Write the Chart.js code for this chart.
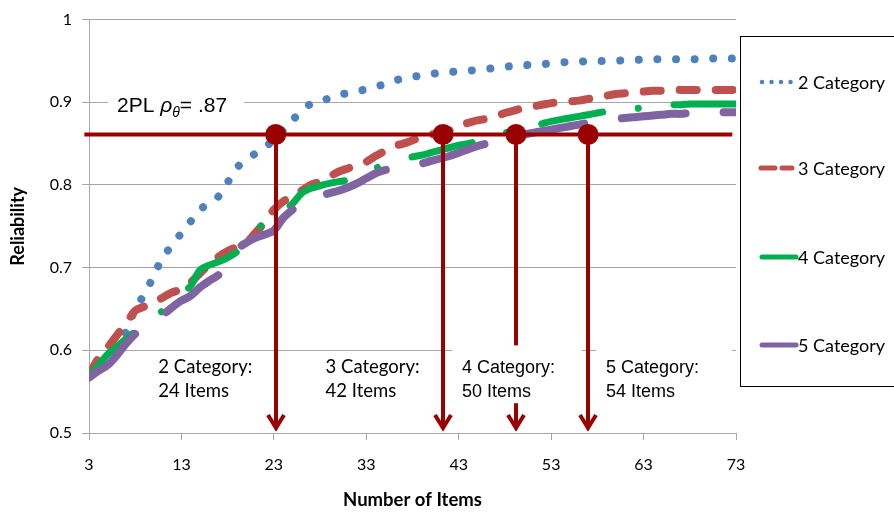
<!DOCTYPE html>
<html>
<head>
<meta charset="utf-8">
<script src="https://cdn.jsdelivr.net/npm/chart.js@4.4.0/dist/chart.umd.min.js"></script>
<style>
  html, body { margin: 0; padding: 0; background: #fff; }
  #wrap { width: 894px; height: 514px; position: relative; }
</style>
</head>
<body>
<div id="wrap"><canvas id="relChart" width="894" height="514"></canvas></div>
<script>
// number of items on the x axis
const itemCounts = [3, 4, 5, 6, 7, 8, 9, 10, 11, 12, 13, 14, 15, 16, 17, 18, 19, 20, 21, 22,
  23, 24, 25, 26, 27, 28, 29, 30, 31, 32, 33, 34, 35, 36, 37, 38, 39, 40, 41, 42,
  43, 44, 45, 46, 47, 48, 49, 50, 51, 52, 53, 54, 55, 56, 57, 58, 59, 60, 61, 62,
  63, 64, 65, 66, 67, 68, 69, 70, 71, 72, 73];

// reliability per response-category model
const twoCat = [0.570, 0.582, 0.595, 0.608, 0.622, 0.650, 0.668, 0.690, 0.713, 0.727,
  0.742, 0.756, 0.770, 0.778, 0.786, 0.803, 0.821, 0.830, 0.838, 0.845,
  0.855, 0.866, 0.878, 0.890, 0.898, 0.901, 0.905, 0.909, 0.911, 0.913,
  0.916, 0.919, 0.922, 0.926, 0.929, 0.931, 0.932, 0.934, 0.936, 0.937,
  0.937, 0.938, 0.939, 0.940, 0.942, 0.943, 0.944, 0.945, 0.945, 0.946,
  0.947, 0.948, 0.949, 0.949, 0.950, 0.950, 0.950, 0.950, 0.951, 0.951,
  0.952, 0.952, 0.952, 0.952, 0.952, 0.952, 0.952, 0.953, 0.953, 0.953, 0.953];
const threeCat = [0.570, 0.590, 0.603, 0.618, 0.632, 0.648, 0.653, 0.658, 0.664, 0.670,
  0.674, 0.682, 0.693, 0.704, 0.713, 0.720, 0.725, 0.730, 0.742, 0.755,
  0.770, 0.780, 0.786, 0.793, 0.800, 0.804, 0.810, 0.816, 0.820, 0.824,
  0.828, 0.835, 0.841, 0.847, 0.850, 0.854, 0.858, 0.861, 0.862, 0.866,
  0.872, 0.875, 0.878, 0.880, 0.883, 0.887, 0.890, 0.893, 0.895, 0.897,
  0.899, 0.900, 0.901, 0.902, 0.904, 0.906, 0.908, 0.910, 0.911, 0.912,
  0.913, 0.914, 0.914, 0.915, 0.915, 0.915, 0.915, 0.915, 0.915, 0.915, 0.915];
const fourCat = [0.568, 0.582, 0.595, 0.604, 0.614, 0.622, 0.628, 0.640, 0.648, 0.658,
  0.668, 0.678, 0.697, 0.703, 0.707, 0.712, 0.719, 0.728, 0.742, 0.755,
  0.762, 0.770, 0.777, 0.790, 0.796, 0.799, 0.802, 0.804, 0.806, 0.809,
  0.814, 0.820, 0.825, 0.828, 0.831, 0.834, 0.836, 0.839, 0.842, 0.845,
  0.848, 0.850, 0.853, 0.856, 0.860, 0.863, 0.866, 0.868, 0.871, 0.874,
  0.877, 0.879, 0.881, 0.883, 0.885, 0.887, 0.889, 0.890, 0.891, 0.892,
  0.894, 0.895, 0.896, 0.897, 0.897, 0.898, 0.898, 0.898, 0.898, 0.898, 0.898];
const fiveCat = [0.567, 0.575, 0.582, 0.594, 0.608, 0.620, 0.628, 0.636, 0.643, 0.652,
  0.660, 0.666, 0.676, 0.684, 0.691, 0.705, 0.722, 0.730, 0.736, 0.740,
  0.745, 0.760, 0.770, 0.778, 0.783, 0.787, 0.790, 0.793, 0.797, 0.802,
  0.808, 0.814, 0.818, 0.820, 0.822, 0.824, 0.826, 0.829, 0.832, 0.835,
  0.839, 0.843, 0.847, 0.850, 0.853, 0.856, 0.859, 0.861, 0.863, 0.865,
  0.867, 0.869, 0.871, 0.873, 0.875, 0.877, 0.879, 0.880, 0.881, 0.882,
  0.883, 0.884, 0.885, 0.886, 0.886, 0.887, 0.887, 0.888, 0.888, 0.888, 0.888];

const seriesNames = ['2 Category', '3 Category', '4 Category', '5 Category'];
const xTicks = [3, 13, 23, 33, 43, 53, 63, 73];
const yTicks = [0.5, 0.6, 0.7, 0.8, 0.9, 1];

// target reliability line and where each model crosses it
const threshold = 0.861;
const thresholdSpan = [2.5, 72.6];
const cutoffItems = [23.2, 41.3, 49.2, 57.0];
const cutoffLabels = [['2 Category:', '24 Items'], ['3 Category:', '42 Items'],
  ['4 Category:', '50 Items'], ['5 Category:', '54 Items']];

const BLUE = '#4F81BD', RED = '#C0504D', GREEN = '#00B050', PURPLE = '#8064A2';
const DARK_RED = '#990000';
const GRID = '#a6a6a6';

function pairs(vals) {
  return itemCounts.map((n, i) => ({ x: n, y: vals[i] }));
}

const annotate = {
  id: 'annotate',
  afterDatasetsDraw(chart) {
    const { ctx, scales: { x, y } } = chart;
    ctx.save();
    const topY = y.getPixelForValue(threshold);
    const baseY = y.getPixelForValue(yTicks[0]);

    // arrows down to the x axis
    ctx.strokeStyle = DARK_RED;
    ctx.lineWidth = 4;
    ctx.lineJoin = 'miter';
    cutoffItems.forEach(v => {
      const px = Math.round(x.getPixelForValue(v));
      ctx.beginPath();
      ctx.moveTo(px, topY);
      ctx.lineTo(px, baseY - 4);
      ctx.stroke();
      ctx.beginPath();
      ctx.moveTo(px - 8, baseY - 18);
      ctx.lineTo(px, baseY - 5);
      ctx.lineTo(px + 8, baseY - 18);
      ctx.stroke();
    });

    // white boxes behind the two right labels
    ctx.fillStyle = '#fff';
    [[42.3, 56.3], [57.85, 72.57]].forEach(b => {
      const l = x.getPixelForValue(b[0]), r = x.getPixelForValue(b[1]);
      const t = y.getPixelForValue(0.606), bt = y.getPixelForValue(0.536);
      ctx.fillRect(l, t, r - l, bt - t);
    });

    // cutoff labels
    ctx.fillStyle = '#000';
    ctx.textBaseline = 'alphabetic';
    ctx.textAlign = 'left';
    const labelX = [10.5, 28.6, 43.35, 58.93];
    cutoffLabels.forEach((lines, i) => {
      ctx.font = i < 2 ? '18.5px Lato' : '18px "Liberation Sans"';
      const px = x.getPixelForValue(labelX[i]);
      ctx.fillText(lines[0], px, y.getPixelForValue(0.572));
      ctx.fillText(lines[1], px, y.getPixelForValue(0.543));
    });

    // "2PL rho_theta = .87" label with a white box over the gridline
    const bl = x.getPixelForValue(5.06), br = x.getPixelForValue(19.8);
    const bt = y.getPixelForValue(0.913), bb = y.getPixelForValue(0.884);
    ctx.fillStyle = '#fff';
    ctx.fillRect(bl, bt, br - bl, bb - bt);
    ctx.fillStyle = '#000';
    let tx = x.getPixelForValue(6.03);
    const ty = y.getPixelForValue(0.888);
    ctx.font = '21px "Liberation Sans"';
    ctx.fillText('2PL ', tx, ty);
    tx += ctx.measureText('2PL ').width;
    ctx.font = 'italic 21px "Liberation Sans"';
    ctx.fillText('\u03C1', tx, ty);
    tx += ctx.measureText('\u03C1').width;
    ctx.font = 'italic 14px "Liberation Sans"';
    ctx.fillText('\u03B8', tx, ty + 5);
    tx += ctx.measureText('\u03B8').width;
    ctx.font = '21px "Liberation Sans"';
    ctx.fillText('= .87', tx, ty);
    ctx.restore();
  },
  afterDraw(chart) {
    // legend box on the right, cut off by the edge like the original
    const { ctx } = chart;
    ctx.save();
    ctx.strokeStyle = '#000';
    ctx.lineWidth = 1;
    ctx.strokeRect(740.5, 36.5, 170, 350);
    const rows = [82, 168, 257, 345];
    const colors = [BLUE, RED, GREEN, PURPLE];
    const dashes = [[0.01, 9.5], [14, 7], [], []];
    rows.forEach((ry, i) => {
      ctx.strokeStyle = colors[i];
      ctx.lineWidth = i === 0 ? 4.5 : 5;
      ctx.lineCap = 'round';
      ctx.setLineDash(dashes[i]);
      ctx.beginPath();
      ctx.moveTo(i === 1 ? 761 : 762, ry);
      ctx.lineTo(i < 2 ? 792 : 796, ry);
      ctx.stroke();
      ctx.setLineDash([]);
      ctx.fillStyle = '#000';
      ctx.font = '18px Lato';
      ctx.textBaseline = 'middle';
      ctx.fillText(seriesNames[i], 798, ry + 1);
    });
    ctx.restore();
  }
};

const ctx = document.getElementById('relChart').getContext('2d');
new Chart(ctx, {
  type: 'line',
  data: {
    datasets: [
      {
        label: 'threshold',
        data: thresholdSpan.map(v => ({ x: v, y: threshold })),
        borderColor: DARK_RED,
        borderWidth: 4,
        pointRadius: 0,
        clip: false,
        order: 0
      },
      {
        label: 'cutoffs',
        data: cutoffItems.map(v => ({ x: v, y: threshold })),
        showLine: false,
        pointRadius: 10.5,
        pointBackgroundColor: DARK_RED,
        pointBorderWidth: 0,
        order: 0
      },
      {
        label: seriesNames[3],
        data: pairs(fiveCat),
        borderColor: PURPLE,
        borderWidth: 8,
        borderCapStyle: 'round',
        borderDash: [64, 38],
        pointRadius: 0,
        tension: 0.3,
        order: 1
      },
      {
        label: seriesNames[2],
        data: pairs(fourCat),
        borderColor: GREEN,
        borderWidth: 7,
        borderCapStyle: 'round',
        borderDash: [62, 36, 0.01, 36],
        pointRadius: 0,
        tension: 0.3,
        order: 2
      },
      {
        label: seriesNames[1],
        data: pairs(threeCat),
        borderColor: RED,
        borderWidth: 8,
        borderCapStyle: 'round',
        borderDash: [17, 19],
        pointRadius: 0,
        tension: 0.3,
        order: 3
      },
      {
        label: seriesNames[0],
        data: pairs(twoCat),
        borderColor: BLUE,
        borderWidth: 8,
        borderCapStyle: 'round',
        borderDash: [0.01, 18.6],
        pointRadius: 0,
        tension: 0.3,
        order: 4
      }
    ]
  },
  options: {
    responsive: false,
    animation: false,
    layout: { padding: { left: 0, top: 15, right: 158, bottom: 0 } },
    plugins: {
      legend: { display: false },
      tooltip: { enabled: false }
    },
    scales: {
      x: {
        type: 'linear',
        min: 3,
        max: 73,
        afterBuildTicks: s => { s.ticks = xTicks.map(v => ({ value: v })); },
        afterFit: s => { s.height = 81; },
        grid: { drawOnChartArea: false, color: GRID, tickLength: 7 },
        border: { color: GRID },
        ticks: { color: '#000', font: { family: 'Lato', size: 16 }, padding: 15, maxRotation: 0 },
        title: {
          display: true,
          text: 'Number of Items',
          color: '#000',
          font: { family: 'Lato', size: 18.5, weight: 'bold' },
          padding: { top: 0, bottom: 3 }
        }
      },
      y: {
        min: 0.5,
        max: 1,
        afterBuildTicks: s => { s.ticks = yTicks.map(v => ({ value: v })); },
        afterFit: s => { s.width = 89; },
        grid: { color: GRID, tickLength: 7 },
        border: { color: GRID },
        ticks: {
          color: '#000',
          font: { family: 'Lato', size: 16 },
          padding: 10,
          callback: v => String(+v.toFixed(1))
        },
        title: {
          display: true,
          text: 'Reliability',
          color: '#000',
          font: { family: 'Lato', size: 18, weight: 'bold' },
          padding: { top: 7, bottom: 0 }
        }
      }
    }
  },
  plugins: [annotate]
});
</script>
</body>
</html>
